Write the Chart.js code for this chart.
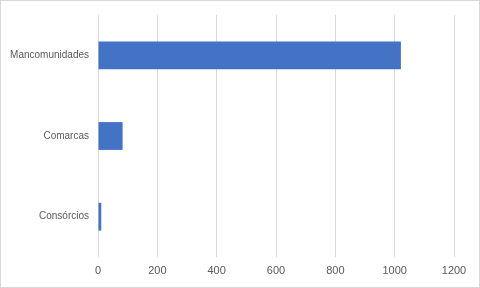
<!DOCTYPE html>
<html>
<head>
<meta charset="utf-8">
<script src="https://cdn.jsdelivr.net/npm/chart.js"></script>
<style>
  html, body { margin: 0; padding: 0; background: #fff; }
  #wrap { width: 480px; height: 288px; position: relative; }
</style>
</head>
<body>
<div id="wrap"><canvas id="chart" width="480" height="288"></canvas></div>
<script>
    'use strict';

    const categories = ['Mancomunidades', 'Comarcas', 'Consórcios'];
    const values = [1021, 83, 11];
    const xTicks = [0, 200, 400, 600, 800, 1000, 1200];

    const gridColor = '#d9d9d9';
    const textColor = '#595959';

    // outer chart border, like the spreadsheet chart frame
    const frame = {
        id: 'frame',
        afterDraw(chart) {
            const ctx = chart.ctx;
            ctx.save();
            ctx.strokeStyle = gridColor;
            ctx.lineWidth = 1;
            ctx.strokeRect(0.5, 0.5, chart.width - 1, chart.height - 1);
            ctx.restore();
        }
    };

    const ctx = document.getElementById('chart').getContext('2d');
    new Chart(ctx, {
        type: 'bar',
        data: {
            labels: categories,
            datasets: [{
                data: values,
                backgroundColor: '#4472C4',
                borderWidth: 0,
                categoryPercentage: 1,
                barPercentage: 0.345
            }]
        },
        options: {
            indexAxis: 'y',
            responsive: false,
            animation: false,
            layout: { padding: { top: 14, right: 26, bottom: 0, left: 0 } },
            plugins: {
                legend: { display: false },
                tooltip: { enabled: false }
            },
            scales: {
                x: {
                    min: 0,
                    max: 1200,
                    afterBuildTicks(scale) {
                        scale.ticks = xTicks.map(v => ({ value: v }));
                    },
                    afterFit(scale) { scale.height = 31; },
                    grid: { color: gridColor, drawTicks: false },
                    border: { display: false },
                    ticks: {
                        color: textColor,
                        padding: 7,
                        callback: v => String(v),
                        font: { family: 'Liberation Sans', size: 11 }
                    }
                },
                y: {
                    grid: { display: false, drawTicks: false },
                    border: { display: false },
                    afterFit(scale) { scale.width = 98; },
                    ticks: {
                        color: textColor,
                        padding: 9,
                        font: { family: 'Liberation Sans', size: 10 }
                    }
                }
            }
        },
        plugins: [frame]
    });
</script>
</body>
</html>
